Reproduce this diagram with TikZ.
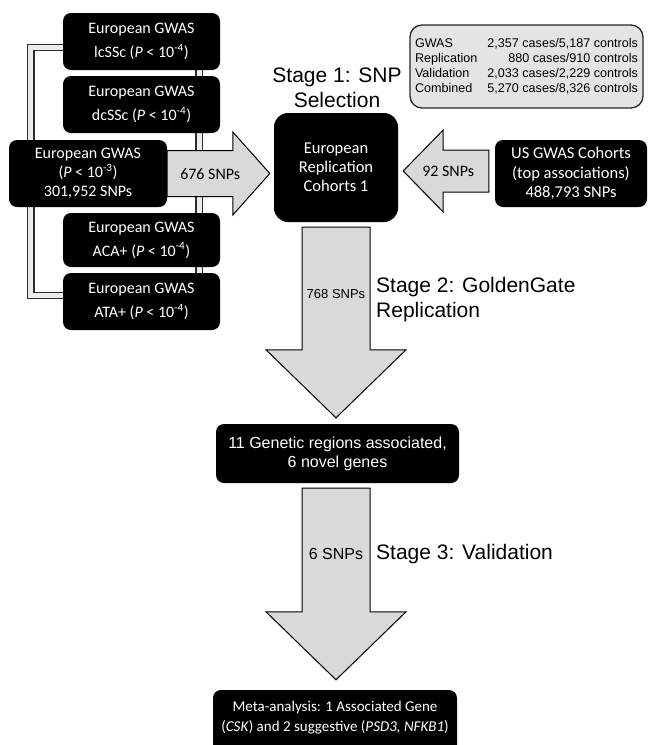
\documentclass[tikz,border=0pt]{standalone}
\usepackage{fontspec}
\setmainfont{Carlito}
\newfontfamily\arl{Liberation Sans}
\usetikzlibrary{calc}
\definecolor{arrowgray}{RGB}{217,217,217}
\definecolor{boxgray}{RGB}{228,228,228}
\pgfdeclarelayer{bg}
\pgfsetlayers{bg,main}
\begin{document}
\begin{tikzpicture}[x=1pt,y=-1pt,
 blk/.style={fill=black, text=white, rounded corners=8pt, align=center, inner sep=0pt, font=\fontsize{16}{19}\selectfont},
 blockarrow/.style={draw=black, line width=1pt, fill=arrowgray, line join=miter},
 dbl/.style={draw=gray!35!black, line width=1.3pt, double=gray!15, double distance=5pt},
 stage/.style={font=\arl\fontsize{21}{25}\selectfont, inner sep=0pt},
 lbl/.style={inner sep=0pt, text=black},
]
\useasboundingbox (0,0) rectangle (649,745);
\clip (0,0) rectangle (649,745);

% left boxes
\node[blk, minimum width=157, minimum height=57] (lc) at (141.5,41.5) {European GWAS\\[5pt]lcSSc (\textit{P} < 10\textsuperscript{-4})};
\node[blk, minimum width=157, minimum height=57] (dc) at (141.5,104.5) {European GWAS\\[5pt]dcSSc (\textit{P} < 10\textsuperscript{-4})};
\node[blk, minimum width=157, minimum height=54] (aca) at (141.5,240) {European GWAS\\[5pt]ACA+ (\textit{P} < 10\textsuperscript{-4})};
\node[blk, minimum width=157, minimum height=57] (ata) at (141.5,301.5) {European GWAS\\[5pt]ATA+ (\textit{P} < 10\textsuperscript{-4})};
\node[blk, minimum width=158, minimum height=67] (gw) at (88,173.5) {European GWAS\\(\textit{P} < 10\textsuperscript{-3})\\301,952 SNPs};

% centre and right
\node[blk, rounded corners=14pt, minimum width=124, minimum height=109, font=\fontsize{16.5}{19}\selectfont] (erc) at (336,167.5) {European\\Replication\\Cohorts 1};
\node[blk, minimum width=152, minimum height=67, font=\fontsize{16.5}{19.5}\selectfont] (us) at (571,173.5) {US GWAS Cohorts\\(top associations)\\488,793 SNPs};

\node[draw=gray!30!black, line width=1.3pt, fill=boxgray, rounded corners=12pt, minimum width=233, minimum height=83, inner sep=0pt] (stats) at (526.5,66.5)
 {\arl\fontsize{12.6}{15}\selectfont\begin{tabular*}{223pt}{@{}l@{\extracolsep{\fill}}r@{}}GWAS & 2,357 cases/5,187 controls\\ Replication & 880 cases/910 controls\\ Validation & 2,033 cases/2,229 controls\\ Combined & 5,270 cases/8,326 controls\end{tabular*}};

\node[stage, align=center] (s1) at (337,88) {Stage 1: SNP\\Selection};

\node[blk, minimum width=243, minimum height=59, font=\arl\fontsize{16}{19}\selectfont] (gen) at (337.5,453.5) {11 Genetic regions associated,\\6 novel genes};

\node[blk, minimum width=244, minimum height=70] (meta) at (335,725) {};
\node[lbl, text=white, align=center, font=\fontsize{15}{20}\selectfont] (metatxt) at (335,718) {Meta-analysis: 1 Associated Gene\\(\textit{CSK}) and 2 suggestive (\textit{PSD3, NFKB1})};

% double connector lines (behind)
\begin{pgfonlayer}{bg}
\draw[dbl] ([yshift=-6pt]lc.west) -- ++(-32,0) |- ([yshift=6pt]ata.west);
\draw[dbl] ([xshift=-21pt]lc.south east) -- ([xshift=-21pt]ata.north east);
\end{pgfonlayer}

% arrow 676 SNPs
\coordinate (a1s) at (gw.east);
\coordinate (a1t) at ($(erc.west |- gw.east)+(-4,0)$);
\draw[blockarrow] ($(a1s)+(0,-23)$) -- ($(a1t)+(-37,-23)$) -- ($(a1t)+(-37,-41.5)$) -- (a1t) -- ($(a1t)+(-37,41.5)$) -- ($(a1t)+(-37,23)$) -- ($(a1s)+(0,23)$) -- cycle;
\node[lbl, font=\fontsize{16}{16}\selectfont] (l676) at ($(a1s)+(43,1)$) {676 SNPs};

% arrow 92 SNPs
\coordinate (a2t) at ($(erc.east |- us.west)+(5,-2.5)$);
\coordinate (a2s) at ($(us.west)+(-6,-2.5)$);
\draw[blockarrow] ($(a2s)+(0,-21)$) -- ($(a2t)+(40,-21)$) -- ($(a2t)+(40,-41)$) -- (a2t) -- ($(a2t)+(40,41)$) -- ($(a2t)+(40,21)$) -- ($(a2s)+(0,21)$) -- cycle;
\node[lbl, font=\fontsize{16}{16}\selectfont] (l92) at ($(a2t)+(45,0)$) {92 SNPs};

% arrow 768 SNPs
\coordinate (a3s) at ($(erc.south)+(0,5)$);
\coordinate (a3t) at ($(erc.south |- gen.north)+(0,-6)$);
\draw[blockarrow] ($(a3s)+(-34,0)$) -- ($(a3t)+(-34,-68)$) -- ($(a3t)+(-70,-68)$) -- (a3t) -- ($(a3t)+(70,-68)$) -- ($(a3t)+(34,-68)$) -- ($(a3s)+(34,0)$) -- cycle;
\node[lbl, font=\arl\fontsize{13}{13}\selectfont] (l768) at ($(a3s)+(0,67)$) {768 SNPs};
\node[stage, anchor=west, align=left] (s2) at (376,299.5) {Stage 2: GoldenGate\\Replication};

% arrow 6 SNPs
\coordinate (a4s) at ($(erc.south |- gen.south)+(0,5)$);
\coordinate (a4t) at ($(erc.south |- meta.north)+(0,-10)$);
\draw[blockarrow] ($(a4s)+(-34,0)$) -- ($(a4t)+(-34,-68)$) -- ($(a4t)+(-70,-68)$) -- (a4t) -- ($(a4t)+(70,-68)$) -- ($(a4t)+(34,-68)$) -- ($(a4s)+(34,0)$) -- cycle;
\node[lbl, font=\arl\fontsize{16}{16}\selectfont] (l6) at ($(a4s)+(0,66)$) {6 SNPs};
\node[stage, anchor=west] (s3) at (376,554) {Stage 3: Validation};
\end{tikzpicture}
\end{document}
